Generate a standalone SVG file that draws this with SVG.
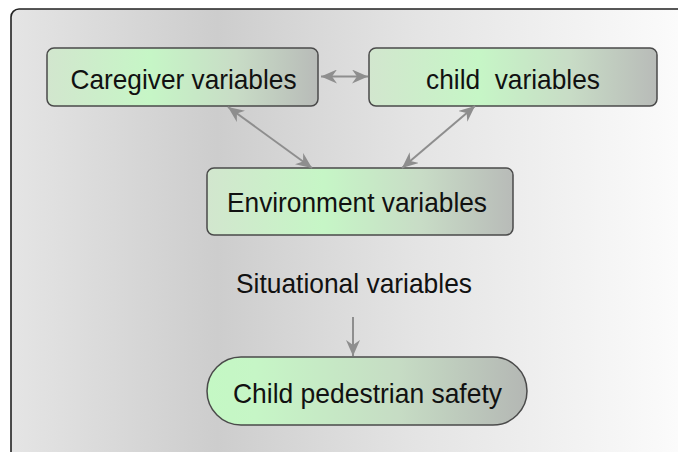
<svg xmlns="http://www.w3.org/2000/svg" width="678" height="452" viewBox="0 0 678 452">
  <defs>
    <linearGradient id="bg" x1="0" y1="0" x2="678" y2="0" gradientUnits="userSpaceOnUse">
      <stop offset="0" stop-color="#e6e6e6"/>
      <stop offset="0.32" stop-color="#cdcdcd"/>
      <stop offset="0.6" stop-color="#e3e3e3"/>
      <stop offset="0.85" stop-color="#f2f2f2"/>
      <stop offset="1" stop-color="#fbfbfb"/>
    </linearGradient>
    <linearGradient id="box" x1="0" y1="0" x2="1" y2="0">
      <stop offset="0" stop-color="#d2e6ce"/>
      <stop offset="0.38" stop-color="#c6f6c6"/>
      <stop offset="0.7" stop-color="#c8dcc6"/>
      <stop offset="1" stop-color="#b8bbb8"/>
    </linearGradient>
    <linearGradient id="pill" x1="0" y1="0" x2="1" y2="0">
      <stop offset="0" stop-color="#c4f8c4"/>
      <stop offset="0.15" stop-color="#c6f6c6"/>
      <stop offset="0.6" stop-color="#c6dcc4"/>
      <stop offset="1" stop-color="#b4b7b4"/>
    </linearGradient>
    <marker id="ah" viewBox="0 0 16 14" refX="16" refY="7" markerWidth="16" markerHeight="14" markerUnits="userSpaceOnUse" orient="auto-start-reverse">
      <path d="M0,0 L16,7 L0,14 L5,7 z" fill="#8e8e8e"/>
    </marker>
  </defs>
  <style>
    .node rect { stroke: #4a4a4a; stroke-width: 1.5; }
    text { font-family: "Liberation Sans", Arial, sans-serif; font-size: 27.5px; fill: #111; text-anchor: middle; }
    .conn path { stroke: #8e8e8e; stroke-width: 2; fill: none; }
  </style>
  <rect x="0" y="0" width="678" height="452" fill="#ffffff"/>
  <rect id="frame" x="11" y="9" width="700" height="470" rx="8" fill="url(#bg)" stroke="#222" stroke-width="1.6"/>

  <g id="caregiver" class="node">
    <rect x="47" y="48" width="271" height="58" rx="7" fill="url(#box)"/>
    <text x="183.5" y="88.5" textLength="226" lengthAdjust="spacingAndGlyphs">Caregiver variables</text>
  </g>
  <g id="child" class="node">
    <rect x="369" y="48" width="288" height="58" rx="7" fill="url(#box)"/>
    <text x="513" y="88.5" xml:space="preserve" textLength="174" lengthAdjust="spacingAndGlyphs">child  variables</text>
  </g>
  <g id="environment" class="node">
    <rect x="207" y="168" width="306" height="67" rx="7" fill="url(#box)"/>
    <text x="357" y="212" textLength="260" lengthAdjust="spacingAndGlyphs">Environment variables</text>
  </g>
  <g id="situational">
    <text x="354" y="293" textLength="236" lengthAdjust="spacingAndGlyphs">Situational variables</text>
  </g>
  <g id="safety" class="node">
    <rect x="207" y="357" width="320" height="68" rx="34" fill="url(#pill)"/>
    <text x="367.5" y="403" textLength="269" lengthAdjust="spacingAndGlyphs">Child pedestrian safety</text>
  </g>

  <g id="connectors" class="conn">
    <path d="M321,76.5 L368,76.5" marker-start="url(#ah)" marker-end="url(#ah)"/>
    <path d="M228,107 L312,168" marker-start="url(#ah)" marker-end="url(#ah)"/>
    <path d="M475,106 L402,168" marker-start="url(#ah)" marker-end="url(#ah)"/>
    <path d="M353,317 L353,356" marker-end="url(#ah)"/>
  </g>
</svg>
